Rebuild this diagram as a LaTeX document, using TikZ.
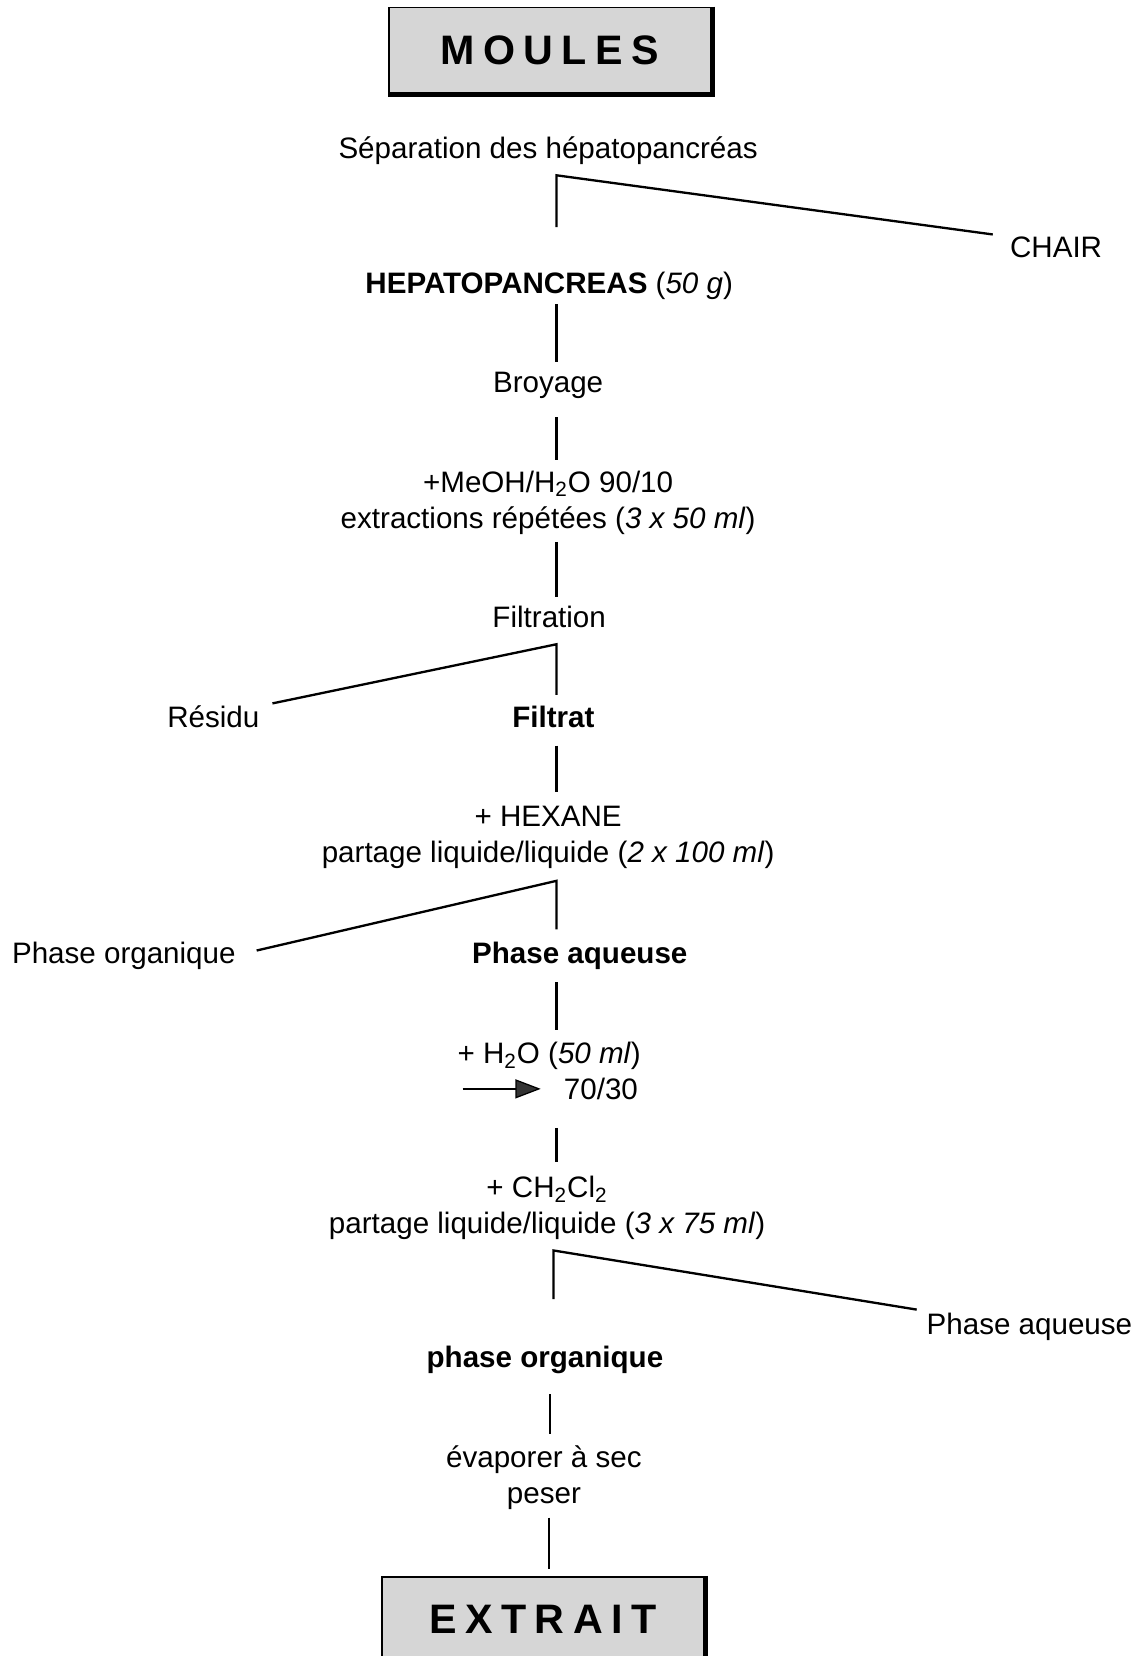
\documentclass[tikz,border=0pt]{standalone}
\usepackage{fontspec}
\setmainfont{Liberation Sans}
\usetikzlibrary{arrows.meta}
\begin{document}
\begin{tikzpicture}[x=0.5pt,y=-0.5pt,
  txt/.style={font=\fontsize{14}{17}\selectfont, inner sep=0pt, align=center},
  lnk/.style={line width=1.1pt},
  titlebox/.style={draw, line width=0.8pt, fill=black!16, minimum width=152.5pt, minimum height=40.5pt, inner sep=0pt, font=\fontsize{19.5}{20}\selectfont\bfseries},
  shadow/.style={line width=1.8pt}
]
\useasboundingbox (0,0) rectangle (1081,1568);

% title boxes
\node[titlebox] (moules) at (520.5,47.5) {M\kern4pt O\kern4pt U\kern4pt L\kern4pt E\kern4pt S};
\draw[shadow] ([xshift=0.5pt]moules.north east) -- ([xshift=0.5pt,yshift=-0.5pt]moules.south east) -- ([yshift=-0.5pt]moules.south west);
\node[titlebox] (extrait) at (514,1533.5) {E\kern4pt X\kern4pt T\kern4pt R\kern4pt A\kern4pt I\kern4pt T};
\draw[shadow] ([xshift=0.5pt]extrait.north east) -- ([xshift=0.5pt,yshift=-0.5pt]extrait.south east);

% text nodes
\node[txt] (sep) at (519,143) {Séparation des hépatopancréas};
\node[txt,anchor=west] (chair) at (956,234) {CHAIR};
\node[txt] (hep) at (520,271) {\textbf{HEPATOPANCREAS} (\textit{50 g})};
\node[txt] (broy) at (519,365) {Broyage};
\node[txt] (meoh) at (519,476) {+MeOH/H\textsubscript{2}O 90/10\\extractions répétées (\textit{3 x 50 ml})};
\node[txt] (filt) at (520,584) {Filtration};
\node[txt,anchor=east] (res) at (246,679) {Résidu};
\node[txt] (filtrat) at (524,679) {\textbf{Filtrat}};
\node[txt] (hex) at (519,793) {+ HEXANE\\partage liquide/liquide (\textit{2 x 100 ml})};
\node[txt,anchor=west] (porg) at (11,905) {Phase organique};
\node[txt] (paq) at (549,905) {\textbf{Phase aqueuse}};
\node[txt] (h2o) at (520,1000) {+ H\textsubscript{2}O (\textit{50 ml})};
\node[txt] (ratio) at (569,1031) {70/30};
\node[txt] (ch2) at (518,1144) {+ CH\textsubscript{2}Cl\textsubscript{2}\\partage liquide/liquide (\textit{3 x 75 ml})};
\node[txt,anchor=west] (paq2) at (877,1256) {Phase aqueuse};
\node[txt] (porg2) at (516,1288) {\textbf{phase organique}};
\node[txt] (evap) at (515,1399) {évaporer à sec\\peser};

% junction coordinates
\coordinate (j1) at (527,166); \coordinate (j1d) at (527,215); \coordinate (j1e) at (940,222);
\coordinate (j2) at (527,610); \coordinate (j2d) at (527,658); \coordinate (j2e) at (258,666);
\coordinate (j3) at (527,834); \coordinate (j3d) at (527,880); \coordinate (j3e) at (243,900);
\coordinate (j4) at (524,1184); \coordinate (j4d) at (524,1230); \coordinate (j4e) at (868,1240);

\draw[lnk] (j1d) -- (j1) -- (j1e);
\draw[lnk] (j2d) -- (j2) -- (j2e);
\draw[lnk] (j3d) -- (j3) -- (j3e);
\draw[lnk] (j4d) -- (j4) -- (j4e);

% vertical links
\coordinate (v1a) at (527,288); \coordinate (v1b) at (527,343);
\coordinate (v2a) at (527,395); \coordinate (v2b) at (527,436);
\coordinate (v3a) at (527,513); \coordinate (v3b) at (527,565);
\coordinate (v4a) at (527,706); \coordinate (v4b) at (527,750);
\coordinate (v5a) at (527,930); \coordinate (v5b) at (527,975);
\coordinate (v6a) at (527,1068); \coordinate (v6b) at (527,1100);
\coordinate (v7a) at (521,1320); \coordinate (v7b) at (521,1358);
\coordinate (v8a) at (520,1437); \coordinate (v8b) at (520,1486);
\foreach \v in {1,...,8} {\draw[lnk] (v\v a) -- (v\v b);}

% arrow
\coordinate (a1) at (438,1031); \coordinate (a2) at (512,1031);
\draw[line width=0.6pt, -{Triangle[length=12pt,width=9pt,fill=black!80]}] (a1) -- (a2);
\end{tikzpicture}
\end{document}
